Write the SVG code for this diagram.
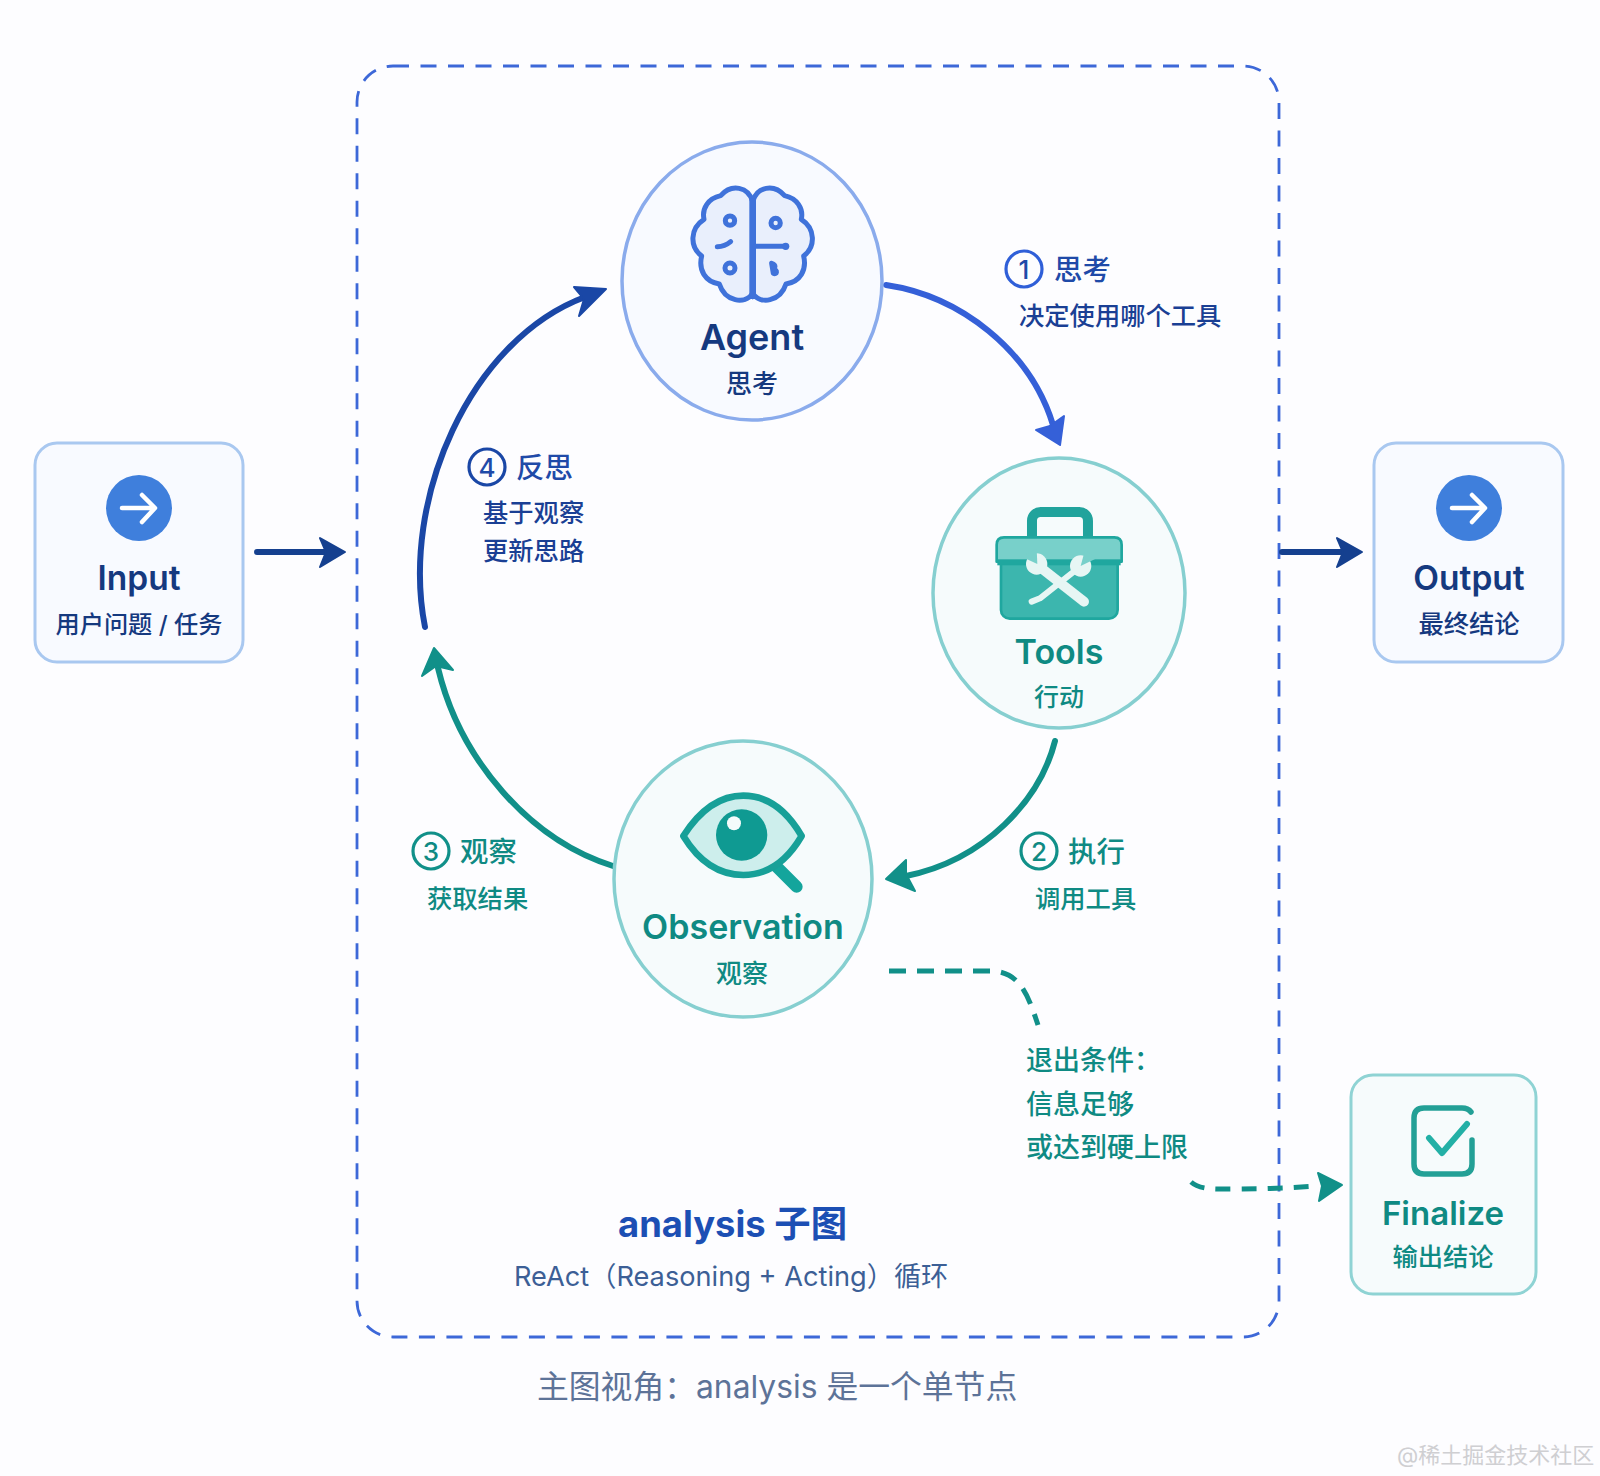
<svg xmlns="http://www.w3.org/2000/svg" width="1600" height="1476" viewBox="0 0 1600 1476">
<style>
text{font-family:Inter,"Noto Sans CJK SC","Noto Sans",sans-serif}
.m{text-anchor:middle}
.blue{fill:#15397f}.teal{fill:#0f8a83}
.t{font-weight:600;font-size:33.5px}
.s{font-size:25.3px;font-weight:500}
.st{font-size:28.4px;font-weight:500}
.lb{fill:#1f4aa8}.lt{fill:#0f8a83}
.nb{fill:#f8faff;stroke:#a9c8f0;stroke-width:3}
.nt{fill:#f6fbfc;stroke:#8fd3d4;stroke-width:3}
.cb{fill:#f8faff;stroke:#8aabec;stroke-width:3.5}
.ct{fill:#f6fbfc;stroke:#86cfd0;stroke-width:3.5}
.num{fill:none;stroke-width:3.2}
.a{fill:none;stroke-width:6;stroke-linecap:round}
.ic{fill:none;stroke:#3f72da;stroke-width:15;stroke-linecap:round;stroke-linejoin:round}
</style>
<rect width="1600" height="1476" fill="#fdfdff"/>
<rect id="frame" x="357" y="66" width="922" height="1271" rx="36" fill="none" stroke="#3d68d8" stroke-width="2.8" stroke-dasharray="16 11.5"/>
<g id="connectors">
<g class="a">
<path d="M886 285C960 296 1030 350 1053 425" stroke="#3560d8"/>
<path d="M1055 741C1040 800 985 860 906 876" stroke="#119089"/>
<path d="M613 866C530 840 460 760 438 668" stroke="#119089"/>
<path d="M425 627C400 500 470 340 585 297" stroke="#1a47a6"/>
<path d="M257 552H330" stroke="#15408f"/>
<path d="M1282 552H1345" stroke="#15408f"/>
<path d="M889 971H990C1020 971 1028 995 1038 1025" stroke="#119089" stroke-width="5" stroke-dasharray="17 11" stroke-linecap="butt"/>
<path d="M1191 1182C1200 1190 1215 1189 1235 1189C1265 1189 1290 1188 1315 1186" stroke="#119089" stroke-width="5" stroke-dasharray="15 11" stroke-linecap="butt"/>
</g>
<g stroke-width="2" stroke-linejoin="round">
<polygon points="1060,445 1036,430 1050,426 1064,416" fill="#3560d8" stroke="#3560d8"/>
<polygon points="886,879 906,860 906,874 915,891" fill="#119089" stroke="#119089"/>
<polygon points="434,648 422,676 436,666 453,670" fill="#119089" stroke="#119089"/>
<polygon points="606,289 574,287 584,299 579,316" fill="#1a47a6" stroke="#1a47a6"/>
<polygon points="345,552 320,538 326,552 320,567" fill="#15408f" stroke="#15408f"/>
<polygon points="1362,552 1337,538 1343,552 1337,567" fill="#15408f" stroke="#15408f"/>
<polygon points="1342,1185 1318,1173 1322,1186 1319,1201" fill="#119089" stroke="#119089"/>
</g>
</g>
<g id="input">
<rect class="nb" x="35" y="443" width="208" height="219" rx="22"/>
<circle cx="139" cy="508" r="33" fill="#3f7fdc"/>
<path d="M122 508H154M142 495L155 508L142 522" fill="none" stroke="#fff" stroke-width="4.5" stroke-linecap="round" stroke-linejoin="round"/>
<text class="m t blue" x="139" y="590">Input</text>
<text class="m blue" x="139" y="633" style="font-size:24.2px;font-weight:500">用户问题 / 任务</text>
</g>
<g id="output">
<rect class="nb" x="1374" y="443" width="189" height="219" rx="22"/>
<circle cx="1469" cy="508" r="33" fill="#3f7fdc"/>
<path d="M1452 508H1484M1472 495L1485 508L1472 522" fill="none" stroke="#fff" stroke-width="4.5" stroke-linecap="round" stroke-linejoin="round"/>
<text class="m t blue" x="1469" y="590">Output</text>
<text class="m s blue" x="1469" y="633">最终结论</text>
</g>
<g id="agent">
<ellipse class="cb" cx="752" cy="281" rx="130" ry="139"/>
<g transform="translate(600 130) scale(.3333)">
<path class="ic" style="fill:#e9effc" d="M458 500V215C445 170 395 160 362 197C325 205 305 235 312 268C270 295 268 350 305 378C295 420 315 455 358 462C375 515 435 525 458 490"/>
<path class="ic" style="fill:#e9effc" d="M458 500V215C471 170 521 160 554 197C591 205 611 235 604 268C646 295 648 350 611 378C621 420 601 455 558 462C541 515 481 525 458 490"/>
<path d="M458 205V495" stroke="#3f72da" stroke-width="20"/>
<circle class="ic" cx="390" cy="272" r="14"/><circle class="ic" cx="390" cy="414" r="15"/>
<path class="ic" d="M352 350C370 350 380 345 392 335"/>
<path class="ic" d="M465 349H555"/><circle cx="557" cy="349" r="11" fill="#3f72da"/>
<circle class="ic" cx="527" cy="279" r="14"/>
<path class="ic" d="M515 400C530 405 525 415 520 418C535 420 530 435 520 430Z"/>
</g>
<text class="m" x="752" y="350" style="font-weight:600;font-size:36px;fill:#15397f">Agent</text>
<text class="m blue" x="752" y="393" style="font-size:26px;font-weight:500">思考</text>
</g>
<g id="tools">
<ellipse class="ct" cx="1059" cy="593" rx="126" ry="135"/>
<g transform="translate(920 450) scale(.3333)">
<rect x="336" y="186" width="168" height="100" rx="26" fill="none" stroke="#21a39c" stroke-width="30"/>
<rect x="243" y="320" width="350" height="186" rx="26" fill="#3cb6ae" stroke="#1fa79f" stroke-width="8"/>
<path d="M230 284Q230 262 252 262H583Q605 262 605 284V335H230Z" fill="#78d0ca" stroke="#1fa79f" stroke-width="8" stroke-linejoin="round"/>
<rect x="232" y="328" width="370" height="18" fill="#1fa79f"/>
<path d="M470 358L360 445L335 455" fill="none" stroke="#e7f6f4" stroke-width="18" stroke-linecap="round" stroke-linejoin="round"/>
<circle cx="482" cy="348" r="32" fill="#e7f6f4"/>
<polygon points="482,348 495,300 530,325" fill="#78d0ca"/>
<path d="M365 355L492 455" stroke="#e7f6f4" stroke-width="30" stroke-linecap="round"/>
<circle cx="350" cy="342" r="32" fill="#e7f6f4"/>
<polygon points="352,342 350,295 305,320" fill="#78d0ca"/>
</g>
<text class="m teal" x="1059" y="664" style="font-weight:600;font-size:34px">Tools</text>
<text class="m teal" x="1059" y="706" style="font-size:25px;font-weight:500">行动</text>
</g>
<g id="observation">
<ellipse class="ct" cx="743" cy="879" rx="129" ry="138"/>
<g transform="translate(600 730) scale(.3333)">
<path d="M530 410L590 470" stroke="#14a59c" stroke-width="36" stroke-linecap="round"/>
<path d="M250 318C310 225 370 197 430 197C500 197 560 240 605 318C560 395 500 435 430 435C360 435 300 400 250 318Z" fill="#cdeeec" stroke="#17a098" stroke-width="20" stroke-linejoin="round"/>
<circle cx="425" cy="315" r="77" fill="#0f9a92"/>
<circle cx="402" cy="280" r="21" fill="#f4fbfb"/>
</g>
<text class="m teal" x="743" y="939" style="font-weight:600;font-size:34px">Observation</text>
<text class="m teal" x="742" y="983" style="font-size:26px;font-weight:500">观察</text>
</g>
<g id="finalize">
<rect class="nt" x="1351" y="1075" width="185" height="219" rx="22"/>
<path d="M1471 1112Q1468 1108 1462 1108H1424Q1414 1108 1414 1118V1164Q1414 1174 1424 1174H1462Q1472 1174 1472 1164V1140" fill="none" stroke="#23a096" stroke-width="5.5" stroke-linecap="round"/>
<path d="M1429 1138L1442 1153L1467 1124" fill="none" stroke="#23b0a6" stroke-width="6" stroke-linecap="round" stroke-linejoin="round"/>
<text class="m teal" x="1443" y="1225" style="font-weight:600;font-size:33px">Finalize</text>
<text class="m s teal" x="1443" y="1266">输出结论</text>
</g>
<g id="labels">
<circle class="num" cx="1024" cy="269" r="18" stroke="#2f5fd8"/><text class="m lb" x="1024" y="279" style="font-size:26px;font-weight:500">1</text>
<text class="st lb" x="1054" y="280">思考</text>
<text class="s" x="1019" y="325" style="fill:#1a3f94">决定使用哪个工具</text>
<circle class="num" cx="487" cy="467" r="18" stroke="#1a47a6"/><text class="m lb" x="487" y="477" style="font-size:26px;font-weight:500">4</text>
<text class="st lb" x="516" y="478">反思</text>
<text class="s" x="483" y="522" style="fill:#1a3f94">基于观察</text>
<text class="s" x="483" y="560" style="fill:#1a3f94">更新思路</text>
<circle class="num" cx="431" cy="851" r="18" stroke="#119089"/><text class="m lt" x="431" y="861" style="font-size:26px;font-weight:500">3</text>
<text class="st lt" x="460" y="862">观察</text>
<text class="s lt" x="427" y="908">获取结果</text>
<circle class="num" cx="1039" cy="851" r="18" stroke="#119089"/><text class="m lt" x="1039" y="861" style="font-size:26px;font-weight:500">2</text>
<text class="st lt" x="1068" y="862">执行</text>
<text class="s lt" x="1035" y="908">调用工具</text>
<text class="lt" x="1026" y="1070" style="font-size:27px;font-weight:500">退出条件：</text>
<text class="lt" x="1026" y="1114" style="font-size:27px;font-weight:500">信息足够</text>
<text class="lt" x="1026" y="1157" style="font-size:27px;font-weight:500">或达到硬上限</text>
<text x="618" y="1237" style="font-size:36.4px;font-weight:700;fill:#1c4fb4">analysis 子图</text>
<text x="514" y="1286" style="font-size:27.2px;fill:#3c5f96">ReAct（Reasoning + Acting）循环</text>
<text x="537" y="1398" style="font-size:31.8px;fill:#5d7398">主图视角：analysis 是一个单节点</text>
<text x="1397" y="1463" style="font-size:22px;fill:#cfcfd2">@稀土掘金技术社区</text>
</g>
</svg>
